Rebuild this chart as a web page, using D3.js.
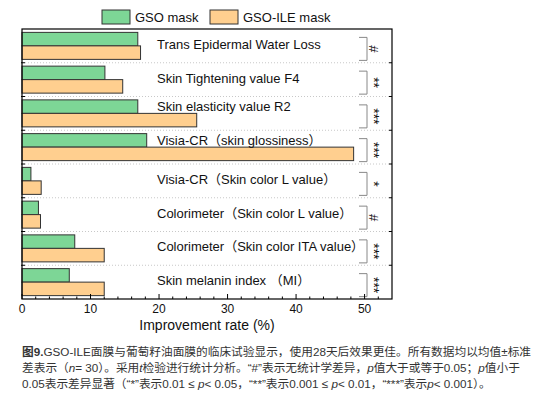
<!DOCTYPE html>
<html>
<head>
<meta charset="utf-8">
<script src="https://cdn.jsdelivr.net/npm/d3@7"></script>
<style>
  body { margin: 0; background: #fff; }
  svg { display: block; font-family: "Liberation Sans", Arial, "Noto Sans CJK SC", sans-serif; }
</style>
</head>
<body>
<svg id="chart" width="549" height="395"></svg>
<script>
// ---- data ----
const categories = [
    "Trans Epidermal Water Loss",
    "Skin Tightening value F4",
    "Skin elasticity value R2",
    "Visia-CR（skin glossiness）",
    "Visia-CR（Skin color L value）",
    "Colorimeter（Skin color L value）",
    "Colorimeter（Skin color ITA value）",
    "Skin melanin index （MI）"
];
const seriesNames = ["GSO mask", "GSO-ILE mask"];
const gsoValues = [16.9, 12.1, 16.9, 18.2, 1.3, 2.4, 7.7, 6.9];
const gsoIleValues = [17.3, 14.7, 25.5, 48.4, 2.8, 2.7, 12.0, 12.0];
const significance = ["#", "**", "***", "***", "*", "#", "***", "***"];
const xTicks = [0, 10, 20, 30, 40, 50];
const captionLines = [
    [{t: "图9.", b: true}, {t: "GSO-ILE面膜与葡萄籽油面膜的临床试验显示，使用28天后效果更佳。所有数据均以均值±标准"}],
    [{t: "差表示（"}, {t: "n", i: true}, {t: "= 30）。采用"}, {t: "t", i: true}, {t: "检验进行统计分析。“#”表示无统计学差异，"}, {t: "p", i: true}, {t: "值大于或等于0.05；"}, {t: "p", i: true}, {t: "值小于"}],
    [{t: "0.05表示差异显著（“*”表示0.01 ≤ "}, {t: "p", i: true}, {t: "< 0.05，“**”表示0.001 ≤ "}, {t: "p", i: true}, {t: "< 0.01，“***”表示"}, {t: "p", i: true}, {t: "< 0.001）。"}]
];

const colors = ["#7dd696", "#ffcf8f"];
const margin = {top: 29, right: 157, bottom: 96, left: 22};
const width = 549, height = 395;
const innerW = width - margin.left - margin.right;
const innerH = height - margin.top - margin.bottom;

const svg = d3.select("#chart");
const g = svg.append("g").attr("transform", `translate(${margin.left},${margin.top})`);

const x = d3.scaleLinear().domain([0, 54]).range([0, innerW]);
const y = d3.scaleBand().domain(categories).range([0, innerH]).paddingInner(0.2).paddingOuter(0.1);
const ySub = d3.scaleBand().domain(seriesNames).range([0, y.bandwidth()]);
const step = y.step();

const rows = categories.map((c, i) => ({cat: c, vals: [gsoValues[i], gsoIleValues[i]], sig: significance[i]}));

// dotted separators between groups
g.append("g").selectAll("line")
    .data(d3.range(1, categories.length))
    .join("line")
    .attr("x1", 0).attr("x2", innerW)
    .attr("y1", d => d * step).attr("y2", d => d * step)
    .attr("stroke", "#c8c8c8")
    .attr("stroke-dasharray", "1,2");

// bars
const groups = g.append("g").selectAll("g")
    .data(rows)
    .join("g")
    .attr("transform", d => `translate(0,${y(d.cat)})`);

groups.selectAll("rect")
    .data(d => d.vals.map((v, j) => ({name: seriesNames[j], v, j})))
    .join("rect")
    .attr("x", x(0))
    .attr("y", d => ySub(d.name))
    .attr("width", d => x(d.v) - x(0))
    .attr("height", ySub.bandwidth())
    .attr("fill", d => colors[d.j])
    .attr("stroke", "#333")
    .attr("stroke-width", 1);

// category labels (lifted onto the green row when the orange bar runs under the text)
const labelX = 135;
groups.append("text")
    .attr("x", labelX)
    .attr("y", d => d.vals[1] > x.invert(labelX) ? ySub(seriesNames[0]) + ySub.bandwidth() / 2 : y.bandwidth() / 2 - 1.5)
    .attr("dy", "0.35em")
    .attr("font-size", 13)
    .attr("fill", "#111")
    .text(d => d.cat);

// significance brackets
const brX = 345, brArm = 8, brHalf = 11.5, brShift = 3;
groups.append("path")
    .attr("d", d => {
        const c = y.bandwidth() / 2 + brShift;
        return `M${brX - brArm},${c - brHalf}H${brX}V${c + brHalf}H${brX - brArm}`;
    })
    .attr("fill", "none")
    .attr("stroke", "#888")
    .attr("stroke-width", 1);

groups.append("text")
    .attr("transform", d => `translate(${brX + 7},${y.bandwidth() / 2 + brShift}) rotate(90)`)
    .attr("text-anchor", "middle")
    .attr("dy", "0.35em")
    .attr("font-size", d => d.sig === "#" ? 13 : 14)
    .attr("fill", "#111")
    .text(d => d.sig);

// x axis with inward ticks
const xAxis = g.append("g").attr("transform", `translate(0,${innerH})`);
xAxis.append("g").selectAll("line")
    .data(d3.range(0, 54, 2))
    .join("line")
    .attr("x1", d => x(d)).attr("x2", d => x(d))
    .attr("y1", 0).attr("y2", d => d % 10 === 0 ? -5 : -2.5)
    .attr("stroke", "#000");
xAxis.selectAll("text")
    .data(xTicks)
    .join("text")
    .attr("x", d => x(d))
    .attr("y", 14)
    .attr("text-anchor", "middle")
    .attr("font-size", 12)
    .attr("fill", "#111")
    .text(d => d);

// group ticks on left and right borders
const bTicks = g.append("g");
bTicks.selectAll("line.l")
    .data(d3.range(1, categories.length))
    .join("line").attr("class", "l")
    .attr("x1", -1).attr("x2", 3)
    .attr("y1", d => d * step).attr("y2", d => d * step)
    .attr("stroke", "#000");
bTicks.selectAll("line.r")
    .data(d3.range(1, categories.length))
    .join("line").attr("class", "r")
    .attr("x1", innerW).attr("x2", innerW - 3)
    .attr("y1", d => d * step).attr("y2", d => d * step)
    .attr("stroke", "#000");

// frame
g.append("rect")
    .attr("width", innerW).attr("height", innerH)
    .attr("fill", "none")
    .attr("stroke", "#000")
    .attr("stroke-width", 1.2);

g.append("text")
    .attr("x", innerW / 2)
    .attr("y", innerH + 31)
    .attr("text-anchor", "middle")
    .attr("font-size", 14)
    .attr("fill", "#111")
    .text("Improvement rate (%)");

// legend
const legend = svg.append("g").attr("transform", "translate(102,10)");
const legendX = [0, 108];
seriesNames.forEach((name, j) => {
    const lg = legend.append("g").attr("transform", `translate(${legendX[j]},0)`);
    lg.append("rect")
        .attr("width", 28).attr("height", 14)
        .attr("fill", colors[j])
        .attr("stroke", "#333");
    lg.append("text")
        .attr("x", 33).attr("y", 7)
        .attr("dy", "0.35em")
        .attr("font-size", 13)
        .attr("fill", "#111")
        .text(name);
});

// caption
const caption = svg.append("g").attr("transform", "translate(22,352)");
captionLines.forEach((line, k) => {
    const t = caption.append("text")
        .attr("x", 0).attr("y", k * 16)
        .attr("dy", "0.35em")
        .attr("font-size", 11.7)
        .attr("fill", "#333")
        .style("font-family", "'Liberation Sans', 'Noto Sans CJK SC', sans-serif");
    line.forEach(part => {
        t.append("tspan")
            .attr("font-weight", part.b ? "bold" : null)
            .attr("font-style", part.i ? "italic" : null)
            .text(part.t);
    });
});
</script>
</body>
</html>
